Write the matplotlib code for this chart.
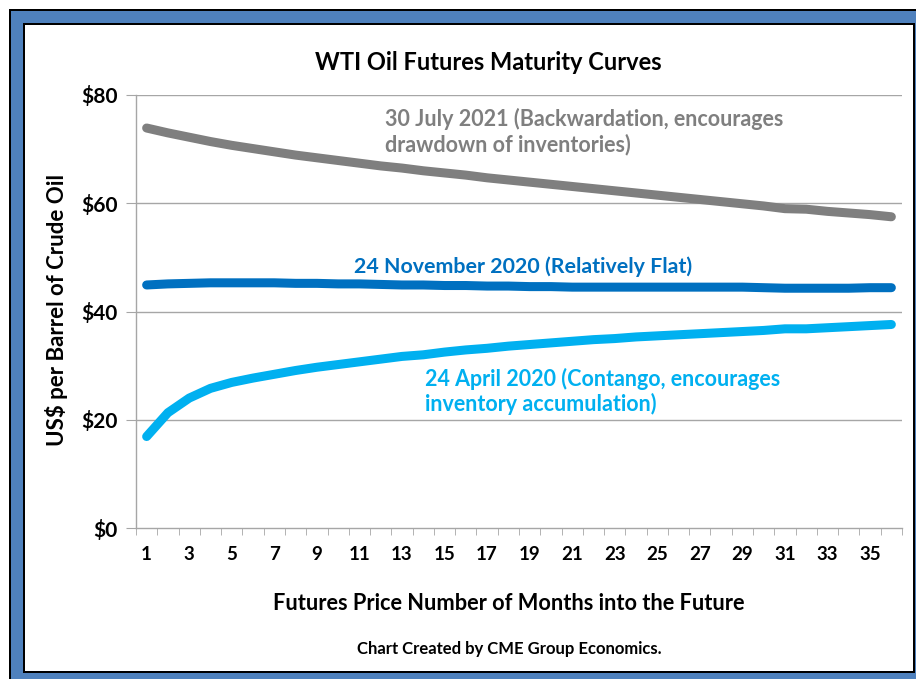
import matplotlib
matplotlib.use("Agg")
import matplotlib.pyplot as plt
from matplotlib.patches import Rectangle

plt.rcParams['font.family'] = ['Lato', 'DejaVu Sans']
plt.rcParams['font.weight'] = 'bold'

months = list(range(1, 37))

jul_2021 = [73.9, 73.0, 72.2, 71.4, 70.7, 70.1, 69.5, 68.9, 68.4, 67.9,
            67.4, 66.9, 66.5, 66.0, 65.6, 65.2, 64.7, 64.3, 63.9, 63.5,
            63.1, 62.7, 62.3, 61.9, 61.5, 61.1, 60.7, 60.3, 59.9, 59.5,
            59.0, 58.9, 58.5, 58.2, 57.9, 57.5]

nov_2020 = [44.9, 45.1, 45.2, 45.3, 45.3, 45.3, 45.3, 45.2, 45.2, 45.1,
            45.1, 45.0, 44.9, 44.9, 44.8, 44.8, 44.7, 44.7, 44.6, 44.6,
            44.5, 44.5, 44.5, 44.5, 44.5, 44.5, 44.5, 44.5, 44.5, 44.4,
            44.3, 44.3, 44.3, 44.3, 44.4, 44.4]

apr_2020 = [16.9, 21.3, 24.0, 25.8, 26.9, 27.7, 28.4, 29.1, 29.7, 30.2,
            30.7, 31.2, 31.7, 32.0, 32.5, 32.9, 33.2, 33.6, 33.9, 34.2,
            34.5, 34.8, 35.0, 35.3, 35.5, 35.7, 35.9, 36.1, 36.3, 36.5,
            36.8, 36.8, 37.0, 37.2, 37.4, 37.6]

x_labels = [str(m) for m in range(1, 37, 2)]
y_ticks = [0, 20, 40, 60, 80]
y_labels = ['$0', '$20', '$40', '$60', '$80']

W, H = 916, 679
fig = plt.figure(figsize=(W / 100, H / 100), dpi=100)


def px_rect(x0, y0, x1, y1, color):
    # rectangle given in pixel coords (origin top-left)
    r = Rectangle((x0 / W, 1 - y1 / H), (x1 - x0) / W, (y1 - y0) / H,
                  transform=fig.transFigure, facecolor=color,
                  edgecolor='none', zorder=-10)
    fig.add_artist(r)


# frame: black edge, blue band, black edge, white inside
px_rect(9, 9, 916, 679, 'black')
px_rect(11, 11, 916, 679, '#4F81BD')
px_rect(23, 23, 915, 673, 'black')
px_rect(25, 25, 913, 671, 'white')

ax = fig.add_axes([136 / W, 1 - 528 / H, (902 - 136) / W, (528 - 95) / H])
ax.set_facecolor('none')

grid_col = '#A6A6A6'
for y in y_ticks[1:]:
    ax.axhline(y, color=grid_col, lw=1.0, zorder=1)

ax.plot(months, jul_2021, color='#7F7F7F', lw=6.5, solid_capstyle='round',
        solid_joinstyle='round', zorder=3)
ax.plot(months, nov_2020, color='#0070C0', lw=6.5, solid_capstyle='round',
        solid_joinstyle='round', zorder=3)
ax.plot(months, apr_2020, color='#00B0F0', lw=6.5, solid_capstyle='round',
        solid_joinstyle='round', zorder=3)

ax.set_xlim(0.5, 36.5)
ax.set_ylim(0, 80)

ax.set_xticks(range(1, 37, 2))
ax.set_xticklabels(x_labels, fontsize=13.5, fontweight='bold')
ax.set_xticks([m + 0.5 for m in range(0, 37)], minor=True)
ax.tick_params(axis='x', which='major', length=0, pad=13)
ax.tick_params(axis='x', which='minor', length=5, color=grid_col, direction='out')

ax.set_yticks(y_ticks)
ax.set_yticklabels(y_labels, fontsize=15, fontweight='bold')
ax.tick_params(axis='y', length=7, color=grid_col, direction='out', pad=6)

for s in ['top', 'right']:
    ax.spines[s].set_visible(False)
for s in ['left', 'bottom']:
    ax.spines[s].set_color(grid_col)
    ax.spines[s].set_linewidth(1.0)

# annotations
ax.text(12.2, 73.3, '30 July 2021 (Backwardation, encourages\ndrawdown of inventories)',
        color='#7F7F7F', fontsize=15.5, fontweight='bold', ha='left', va='center',
        linespacing=1.2)
ax.text(18.7, 48.2, '24 November 2020 (Relatively Flat)',
        color='#0070C0', fontsize=15.4, fontweight='bold', ha='center', va='center')
ax.text(14.1, 25.2, '24 April 2020 (Contango, encourages\ninventory accumulation)',
        color='#00B0F0', fontsize=15.5, fontweight='bold', ha='left', va='center',
        linespacing=1.2)

fig.text(488.5 / W, 1 - 62 / H, 'WTI Oil Futures Maturity Curves',
         fontsize=17, fontweight='bold', ha='center', va='center')
fig.text(57 / W, 1 - 310 / H, 'US$ per Barrel of Crude Oil', rotation=90,
         fontsize=16, fontweight='bold', ha='center', va='center')
fig.text(509 / W, 1 - 603 / H, 'Futures Price Number of Months into the Future',
         fontsize=15.7, fontweight='bold', ha='center', va='center')
fig.text(509 / W, 1 - 649 / H, 'Chart Created by CME Group Economics.',
         fontsize=12, fontweight='bold', ha='center', va='center')

fig.savefig('out.png', dpi=100)
